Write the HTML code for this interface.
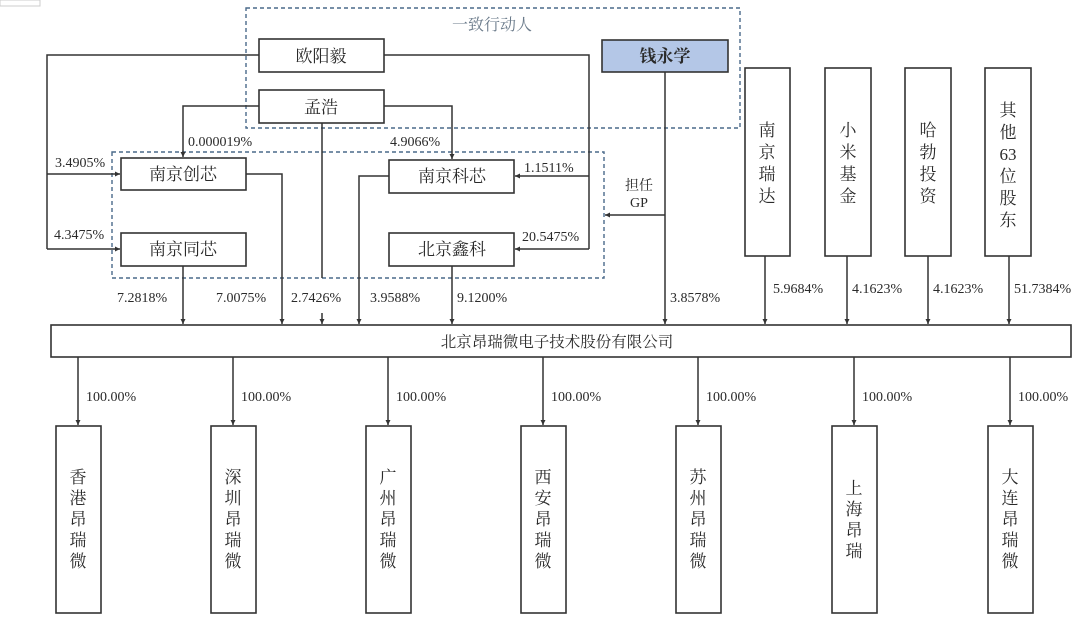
<!DOCTYPE html>
<html><head><meta charset="utf-8"><style>
html,body{margin:0;padding:0;background:#fff;}
svg{display:block;}
text{font-family:"Liberation Serif","Noto Serif CJK SC",serif;fill:#2a2a2a;}
</style></head><body>
<svg width="1080" height="628" viewBox="0 0 1080 628" xmlns="http://www.w3.org/2000/svg">
<defs>
<marker id="a" markerWidth="6" markerHeight="6" refX="5" refY="3" orient="auto" markerUnits="userSpaceOnUse">
<path d="M0,0.5 L5,3 L0,5.5 z" fill="#333"/></marker>
</defs>
<rect x="0" y="0" width="40" height="6" fill="none" stroke="#ccc" stroke-width="1"/>
<g fill="none" stroke="#4a6a8a" stroke-width="1.4" stroke-dasharray="4,3">
<rect x="246" y="8" width="494" height="120"/>
<rect x="112" y="152" width="492" height="126"/>
</g>
<text x="492" y="30" font-size="16" text-anchor="middle" style="fill:#6a7a8a">一致行动人</text>

<g fill="none" stroke="#333" stroke-width="1.5">
<polyline points="259,55 47,55 47,249"/>
<line x1="47" y1="174" x2="120" y2="174" marker-end="url(#a)"/>
<line x1="47" y1="249" x2="120" y2="249" marker-end="url(#a)"/>
<polyline points="384,55 589,55 589,249"/>
<line x1="589" y1="176" x2="515" y2="176" marker-end="url(#a)"/>
<line x1="589" y1="249" x2="515" y2="249" marker-end="url(#a)"/>
<polyline points="259,106 183,106 183,157" marker-end="url(#a)"/>
<polyline points="384,106 452,106 452,159" marker-end="url(#a)"/>
<line x1="322" y1="123" x2="322" y2="278"/>
<line x1="322" y1="313" x2="322" y2="324" marker-end="url(#a)"/>
<line x1="183" y1="266" x2="183" y2="324" marker-end="url(#a)"/>
<polyline points="246,174 282,174 282,324" marker-end="url(#a)"/>
<polyline points="389,176 359,176 359,324" marker-end="url(#a)"/>
<line x1="452" y1="266" x2="452" y2="324" marker-end="url(#a)"/>
<line x1="665" y1="72" x2="665" y2="324" marker-end="url(#a)"/>
<line x1="665" y1="215" x2="605" y2="215" marker-end="url(#a)"/>
<line x1="765" y1="256" x2="765" y2="324" marker-end="url(#a)"/>
<line x1="847" y1="256" x2="847" y2="324" marker-end="url(#a)"/>
<line x1="928" y1="256" x2="928" y2="324" marker-end="url(#a)"/>
<line x1="1009" y1="256" x2="1009" y2="324" marker-end="url(#a)"/>
<line x1="78" y1="357" x2="78" y2="425" marker-end="url(#a)"/>
<line x1="233" y1="357" x2="233" y2="425" marker-end="url(#a)"/>
<line x1="388" y1="357" x2="388" y2="425" marker-end="url(#a)"/>
<line x1="543" y1="357" x2="543" y2="425" marker-end="url(#a)"/>
<line x1="698" y1="357" x2="698" y2="425" marker-end="url(#a)"/>
<line x1="854" y1="357" x2="854" y2="425" marker-end="url(#a)"/>
<line x1="1010" y1="357" x2="1010" y2="425" marker-end="url(#a)"/>
</g>

<g fill="#fff" stroke="#333" stroke-width="1.6">
<rect x="259" y="39" width="125" height="33"/>
<rect x="259" y="90" width="125" height="33"/>
<rect x="602" y="40" width="126" height="32" fill="#b4c7e7"/>
<rect x="121" y="158" width="125" height="32"/>
<rect x="121" y="233" width="125" height="33"/>
<rect x="389" y="160" width="125" height="33"/>
<rect x="389" y="233" width="125" height="33"/>
<rect x="745" y="68" width="45" height="188"/>
<rect x="825" y="68" width="46" height="188"/>
<rect x="905" y="68" width="46" height="188"/>
<rect x="985" y="68" width="46" height="188"/>
<rect x="51" y="325" width="1020" height="32"/>
<rect x="56" y="426" width="45" height="187"/>
<rect x="211" y="426" width="45" height="187"/>
<rect x="366" y="426" width="45" height="187"/>
<rect x="521" y="426" width="45" height="187"/>
<rect x="676" y="426" width="45" height="187"/>
<rect x="832" y="426" width="45" height="187"/>
<rect x="988" y="426" width="45" height="187"/>
</g>

<g font-size="17" text-anchor="middle">
<text x="321" y="62">欧阳毅</text>
<text x="321" y="113">孟浩</text>
<text x="665" y="62" font-weight="bold">钱永学</text>
<text x="183" y="180">南京创芯</text>
<text x="183" y="255">南京同芯</text>
<text x="452" y="182">南京科芯</text>
<text x="452" y="255">北京鑫科</text>
<text x="557" y="347" font-size="15.5">北京昂瑞微电子技术股份有限公司</text>
</g>

<g font-size="17" text-anchor="middle">
<text x="767" y="136">南</text><text x="767" y="158">京</text><text x="767" y="180">瑞</text><text x="767" y="202">达</text>
<text x="848" y="136">小</text><text x="848" y="158">米</text><text x="848" y="180">基</text><text x="848" y="202">金</text>
<text x="928" y="136">哈</text><text x="928" y="158">勃</text><text x="928" y="180">投</text><text x="928" y="202">资</text>
<text x="1008" y="116">其</text><text x="1008" y="138">他</text><text x="1008" y="160">63</text><text x="1008" y="182">位</text><text x="1008" y="204">股</text><text x="1008" y="226">东</text>
</g>

<g font-size="17" text-anchor="middle">
<g transform="translate(78,0)"><text y="483">香</text><text y="504">港</text><text y="525">昂</text><text y="546">瑞</text><text y="567">微</text></g>
<g transform="translate(233,0)"><text y="483">深</text><text y="504">圳</text><text y="525">昂</text><text y="546">瑞</text><text y="567">微</text></g>
<g transform="translate(388,0)"><text y="483">广</text><text y="504">州</text><text y="525">昂</text><text y="546">瑞</text><text y="567">微</text></g>
<g transform="translate(543,0)"><text y="483">西</text><text y="504">安</text><text y="525">昂</text><text y="546">瑞</text><text y="567">微</text></g>
<g transform="translate(698,0)"><text y="483">苏</text><text y="504">州</text><text y="525">昂</text><text y="546">瑞</text><text y="567">微</text></g>
<g transform="translate(854,0)"><text y="494">上</text><text y="515">海</text><text y="536">昂</text><text y="557">瑞</text></g>
<g transform="translate(1010,0)"><text y="483">大</text><text y="504">连</text><text y="525">昂</text><text y="546">瑞</text><text y="567">微</text></g>
</g>

<g font-size="14">
<text x="188" y="146">0.000019%</text>
<text x="390" y="146">4.9066%</text>
<text x="55" y="167">3.4905%</text>
<text x="54" y="239">4.3475%</text>
<text x="524" y="172">1.1511%</text>
<text x="522" y="241">20.5475%</text>
<text x="117" y="302">7.2818%</text>
<text x="216" y="302">7.0075%</text>
<text x="291" y="302">2.7426%</text>
<text x="370" y="302">3.9588%</text>
<text x="457" y="302">9.1200%</text>
<text x="670" y="302">3.8578%</text>
<text x="773" y="293">5.9684%</text>
<text x="852" y="293">4.1623%</text>
<text x="933" y="293">4.1623%</text>
<text x="1014" y="293">51.7384%</text>
<text x="625" y="190">担任</text>
<text x="630" y="207">GP</text>
<text x="86" y="401">100.00%</text>
<text x="241" y="401">100.00%</text>
<text x="396" y="401">100.00%</text>
<text x="551" y="401">100.00%</text>
<text x="706" y="401">100.00%</text>
<text x="862" y="401">100.00%</text>
<text x="1018" y="401">100.00%</text>
</g>
</svg>
</body></html>
